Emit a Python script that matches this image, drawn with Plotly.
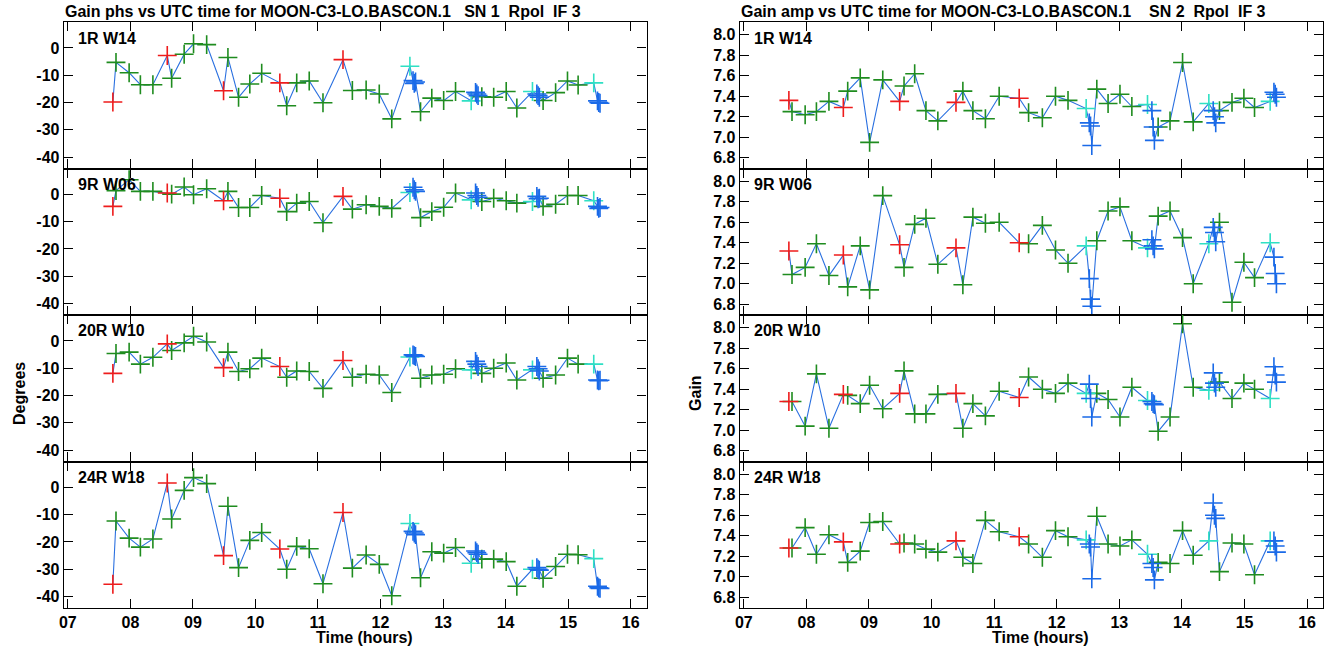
import plotly.graph_objects as go

# ---------------- data ----------------
times = [7.72, 7.77, 7.98, 8.16, 8.36,
         8.59, 8.66, 8.86, 9.01, 9.22,
         9.49, 9.56, 9.73, 9.91, 10.10,
         10.39, 10.50, 10.66, 10.86, 11.08,
         11.40, 11.55, 11.77, 11.98, 12.18,
         12.47, 12.52, 12.54, 12.56, 12.64, 12.82, 13.01, 13.20,
         13.45, 13.52, 13.54, 13.56, 13.62, 13.81, 14.01, 14.18,
         14.43, 14.50, 14.52, 14.54, 14.60, 14.80, 14.99, 15.16,
         15.41, 15.47, 15.49, 15.51]
sources = (['r', 'g', 'g', 'g', 'g'] * 5
           + ['c', 'b', 'b', 'b', 'g', 'g', 'g', 'g'] * 3
           + ['c', 'b', 'b', 'b'])

antennas = ['1R W14', '9R W06', '20R W10', '24R W18']

phs_1R = [-19.8, -5.3, -9.1, -13.5, -13.5,
          -2.8, -11.1, -2.3, 1.5, 1.2,
          -15.7, -3.5, -18.1, -13.2, -9.3,
          -12.8, -21.2, -12.8, -12.1, -20.1,
          -4.3, -15.6, -15.4, -16.9, -26.0,
          -6.7, -12.0, -13.0, -12.5, -23.4, -18.4, -19.3, -16.0,
          -19.4, -16.3, -16.9, -17.5, -17.9, -18.1, -16.0, -22.0,
          -16.0, -16.9, -17.5, -18.1, -19.3, -16.4, -12.1, -13.6,
          -12.8, -19.4, -20.0, -20.3]
phs_9R = [-4.4, 1.4, 5.4, 1.1, 1.1,
          0.5, 0.1, 2.7, -0.1, 2.1,
          -2.3, 1.1, -4.8, -4.8, -0.4,
          -1.4, -6.3, -3.2, -2.6, -10.4,
          -0.7, -5.4, -3.8, -4.4, -5.1,
          0.7, 2.6, 1.7, 1.1, -8.5, -6.3, -4.7, 0.5,
          -2.0, 0.5, -0.4, -1.1, -2.6, -1.4, -2.3, -3.2,
          -2.6, -0.7, -1.6, -1.4, -4.4, -3.6, -0.4, -0.4,
          -2.3, -4.4, -5.1, -4.8]
phs_20R = [-11.9, -4.6, -4.1, -8.5, -6.0,
           -1.1, -3.5, -0.7, 1.7, -0.4,
           -9.8, -4.1, -11.2, -10.2, -6.3,
           -9.4, -13.3, -11.0, -11.2, -17.4,
           -7.2, -13.3, -12.2, -12.5, -18.9,
           -5.9, -5.1, -5.4, -5.7, -13.7, -12.5, -12.2, -10.2,
           -10.6, -7.5, -8.5, -9.4, -11.9, -10.0, -8.1, -14.3,
           -10.6, -9.4, -10.2, -11.0, -13.7, -12.5, -6.3, -8.5,
           -8.5, -14.3, -14.6, -14.4]
phs_24R = [-35.5, -12.3, -18.6, -21.9, -18.9,
           1.6, -11.6, -1.1, 3.6, 1.4,
           -25.0, -6.9, -29.4, -19.4, -16.5,
           -22.6, -30.0, -21.6, -22.5, -35.3,
           -9.2, -29.6, -24.8, -28.2, -39.7,
           -13.2, -16.1, -16.7, -17.3, -33.1, -23.6, -24.1, -22.0,
           -27.8, -23.3, -23.9, -24.5, -26.3, -26.3, -27.2, -36.2,
           -30.0, -29.4, -30.0, -30.3, -33.3, -29.0, -24.5, -24.7,
           -26.1, -36.2, -36.8, -37.0]

amp_1R = [7.36, 7.25, 7.22, 7.25, 7.35,
          7.29, 7.45, 7.58, 6.95, 7.56,
          7.35, 7.50, 7.62, 7.26, 7.16,
          7.34, 7.45, 7.26, 7.18, 7.40,
          7.38, 7.24, 7.19, 7.40, 7.36,
          7.28, 7.14, 7.11, 6.92, 7.47, 7.33, 7.42, 7.30,
          7.32, 7.26, 7.10, 6.97, 7.10, 7.16, 7.73, 7.15,
          7.33, 7.26, 7.20, 7.14, 7.26, 7.34, 7.38, 7.29,
          7.35, 7.44, 7.42, 7.39]
amp_9R = [7.32, 7.09, 7.16, 7.39, 7.08,
          7.28, 6.97, 7.37, 6.94, 7.86,
          7.38, 7.16, 7.58, 7.64, 7.19,
          7.35, 6.99, 7.65, 7.59, 7.60,
          7.40, 7.39, 7.57, 7.33, 7.20,
          7.37, 7.05, 6.85, 6.78, 7.42, 7.71, 7.75, 7.42,
          7.35, 7.43, 7.37, 7.34, 7.66, 7.71, 7.45, 7.00,
          7.39, 7.55, 7.50, 7.41, 7.60, 6.82, 7.21, 7.06,
          7.40, 7.26, 7.10, 7.00]
amp_20R = [7.28, 7.28, 7.04, 7.55, 7.02,
           7.35, 7.34, 7.26, 7.44, 7.21,
           7.36, 7.58, 7.16, 7.16, 7.35,
           7.36, 7.02, 7.26, 7.14, 7.38,
           7.32, 7.52, 7.40, 7.36, 7.46,
           7.36, 7.45, 7.31, 7.13, 7.36, 7.30, 7.13, 7.42,
           7.29, 7.28, 7.26, 7.25, 6.99, 7.13, 8.04, 7.42,
           7.39, 7.56, 7.46, 7.42, 7.47, 7.31, 7.46, 7.40,
           7.31, 7.62, 7.54, 7.47]
amp_24R = [7.28, 7.28, 7.48, 7.22, 7.41,
           7.34, 7.14, 7.25, 7.53, 7.54,
           7.32, 7.33, 7.32, 7.27, 7.24,
           7.35, 7.19, 7.13, 7.55, 7.44,
           7.39, 7.32, 7.19, 7.45, 7.39,
           7.36, 7.32, 7.29, 6.98, 7.59, 7.32, 7.30, 7.36,
           7.22, 7.13, 7.09, 6.97, 7.14, 7.13, 7.45, 7.21,
           7.35, 7.72, 7.60, 7.57, 7.05, 7.33, 7.32, 7.02,
           7.35, 7.35, 7.30, 7.24]

x_ticks = [7, 8, 9, 10, 11, 12, 13, 14, 15, 16]
x_ticklabels = ['07', '08', '09', '10', '11', '12', '13', '14', '15', '16']
phs_ticks = [0, -10, -20, -30, -40]
amp_ticks = [8.0, 7.8, 7.6, 7.4, 7.2, 7.0, 6.8]

titles = ['Gain phs vs UTC time for MOON-C3-LO.BASCON.1   SN 1  Rpol  IF 3',
          'Gain amp vs UTC time for MOON-C3-LO.BASCON.1    SN 2  Rpol  IF 3']
y_titles = ['Degrees', 'Gain']
x_title = 'Time (hours)'

# ---------------- styling ----------------
W, H = 1339, 651
FONT = 'Liberation Sans'
src_color = {'r': '#ee1c1c', 'g': '#1f8c1f', 'c': '#2fe0c4', 'b': '#1a6ae8'}
line_color = '#2a70e0'

col_px = [(59.0, 644.0), (737.5, 1323.0)]
row_px = [(22.0, 168.5), (168.5, 315.0), (315.0, 461.5), (461.5, 608.0)]
x_range = [6.935, 16.255]
y_ranges = [[-44.2, 9.5], [6.695, 8.125]]

panels = [[phs_1R, phs_9R, phs_20R, phs_24R], [amp_1R, amp_9R, amp_20R, amp_24R]]

fig = go.Figure()
layout = dict(width=W, height=H, margin=dict(l=0, r=0, t=0, b=0),
              paper_bgcolor='white', plot_bgcolor='white', showlegend=False)
annotations = []

for c in range(2):
    for r in range(4):
        k = c * 4 + r + 1
        xa = 'x' if k == 1 else f'x{k}'
        ya = 'y' if k == 1 else f'y{k}'
        vals = panels[c][r]
        fig.add_trace(go.Scatter(x=times, y=vals, mode='lines', xaxis=xa, yaxis=ya,
                                 line=dict(color=line_color, width=1.1), hoverinfo='skip'))
        for s in ['g', 'r', 'c', 'b']:
            xs = [t for t, q in zip(times, sources) if q == s]
            ys = [v for v, q in zip(vals, sources) if q == s]
            fig.add_trace(go.Scatter(x=xs, y=ys, mode='markers', xaxis=xa, yaxis=ya,
                                     cliponaxis=False,
                                     marker=dict(symbol='cross-thin', size=13.5,
                                                 line=dict(color=src_color[s], width=1.6))))
        x0, x1 = col_px[c]
        y0, y1 = row_px[r]
        axis_common = dict(showline=True, linecolor='black', linewidth=1.3, mirror='ticks',
                           ticks='inside', ticklen=9, tickwidth=1.4, tickcolor='black',
                           showgrid=False, zeroline=False,
                           tickfont=dict(family=FONT, size=16, color='black', weight='bold'))
        layout['xaxis' if k == 1 else f'xaxis{k}'] = dict(
            domain=[x0 / W, x1 / W], range=x_range, anchor=ya,
            tickvals=x_ticks, ticktext=x_ticklabels, showticklabels=(r == 3),
            **axis_common)
        layout['yaxis' if k == 1 else f'yaxis{k}'] = dict(
            domain=[1 - y1 / H, 1 - y0 / H], range=y_ranges[c], anchor=xa,
            tickvals=phs_ticks if c == 0 else amp_ticks,
            ticktext=[str(v) for v in phs_ticks] if c == 0 else [f'{v:.1f}' for v in amp_ticks],
            **axis_common)
        annotations.append(dict(text=antennas[r], xref='paper', yref='paper',
                                x=(x0 + 12) / W, y=1 - (y0 + 16) / H,
                                xanchor='left', yanchor='middle', showarrow=False,
                                font=dict(family=FONT, size=16, color='black', weight='bold')))
    annotations.append(dict(text=titles[c].replace(' ', '\u00a0'), xref='paper', yref='paper',
                            x=(col_px[c][0] - 1) / W, y=1 - 11 / H,
                            xanchor='left', yanchor='middle', showarrow=False,
                            font=dict(family=FONT, size=16, color='black', weight='bold')))
    annotations.append(dict(text=y_titles[c], xref='paper', yref='paper',
                            x=(col_px[c][0] - 45) / W, y=1 - 393 / H, textangle=-90,
                            xanchor='center', yanchor='middle', showarrow=False,
                            font=dict(family=FONT, size=16, color='black', weight='bold')))
    annotations.append(dict(text=x_title, xref='paper', yref='paper',
                            x=(col_px[c][0] + 302) / W, y=1 - 637 / H,
                            xanchor='center', yanchor='middle', showarrow=False,
                            font=dict(family=FONT, size=16, color='black', weight='bold')))

layout['annotations'] = annotations
fig.update_layout(**layout)
fig.write_html('out.html', config={'displayModeBar': False},
               post_script="document.body.style.margin='0px';")
